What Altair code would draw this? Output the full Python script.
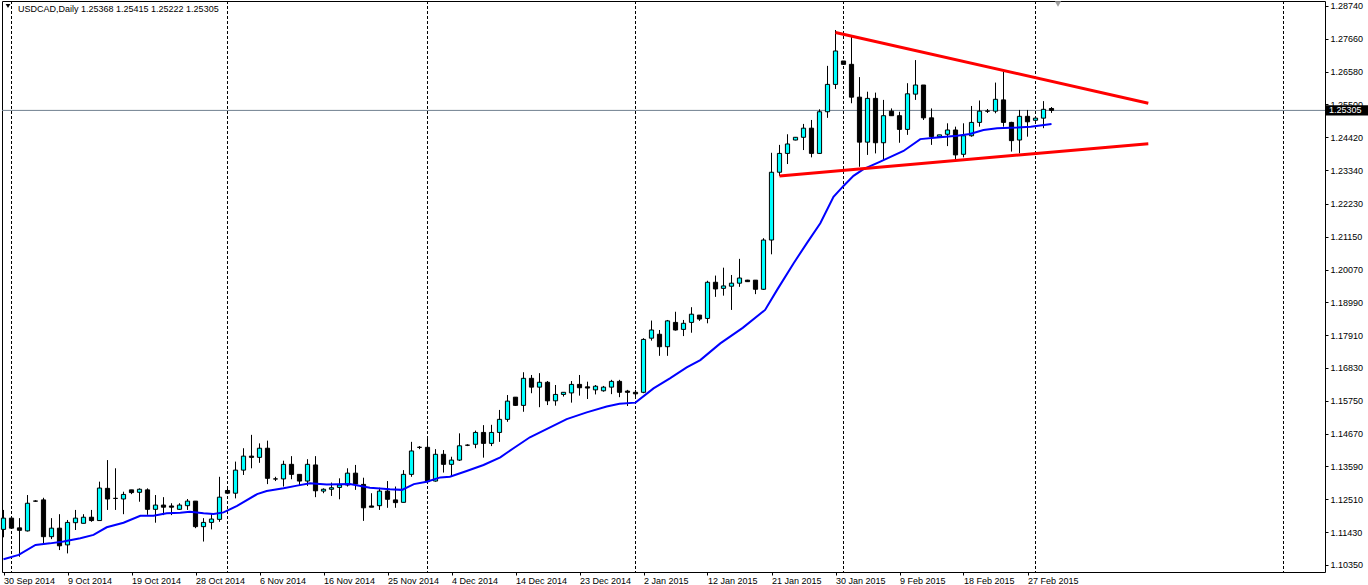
import json
import altair as alt
import pandas as pd

# ---------------- data ----------------
bar_idx = list(range(132))  # daily bars (Sun-Fri) from 30 Sep 2014 to 3 Mar 2015

opens = [1.1152, 1.1189, 1.1157, 1.1147, 1.1245, 1.1249, 1.1128, 1.1156, 1.1101, 1.1174,
         1.1172, 1.1192, 1.1181, 1.1287, 1.1254, 1.1252, 1.1282, 1.1274, 1.1282, 1.1218,
         1.1232, 1.1229, 1.1218, 1.1230, 1.1245, 1.1161, 1.1175, 1.1185, 1.1280, 1.1271,
         1.1347, 1.1393, 1.1389, 1.1419, 1.1318, 1.1318, 1.1366, 1.1333, 1.1311, 1.1364,
         1.1278, 1.1284, 1.1290, 1.1298, 1.1337, 1.1300, 1.1229, 1.1230, 1.1278, 1.1249,
         1.1241, 1.1333, 1.1422, 1.1422, 1.1311, 1.1399, 1.1366, 1.1380, 1.1429, 1.1432,
         1.1471, 1.1435, 1.1471, 1.1514, 1.1587, 1.1560, 1.1649, 1.1620, 1.1636, 1.1575,
         1.1596, 1.1601, 1.1629, 1.1621, 1.1611, 1.1608, 1.1620, 1.1639, 1.1607, 1.1603,
         1.1603, 1.1781, 1.1794, 1.1753, 1.1833, 1.1810, 1.1833, 1.1857, 1.1846, 1.1965,
         1.1945, 1.1952, 1.1962, 1.1972, 1.1972, 1.1942, 1.2104, 1.2327, 1.2389, 1.2433,
         1.2442, 1.2472, 1.2389, 1.2526, 1.2616, 1.2693, 1.2682, 1.2574, 1.2426, 1.2570,
         1.2424, 1.2528, 1.2513, 1.2468, 1.2584, 1.2614, 1.2506, 1.2444, 1.2452, 1.2466,
         1.2386, 1.2447, 1.2491, 1.2528, 1.2528, 1.2565, 1.2491, 1.2433, 1.2511, 1.2498,
         1.2505, 1.25368]
highs = [1.1216, 1.1191, 1.1189, 1.1265, 1.1248, 1.1256, 1.1189, 1.1202, 1.1183, 1.1216,
         1.1202, 1.1216, 1.1309, 1.1380, 1.1353, 1.1276, 1.1282, 1.1287, 1.1287, 1.1265,
         1.1258, 1.1238, 1.1238, 1.1252, 1.1245, 1.1189, 1.1205, 1.1325, 1.1293, 1.1375,
         1.1419, 1.1463, 1.1435, 1.1444, 1.1325, 1.1378, 1.1393, 1.1333, 1.1383, 1.1393,
         1.1287, 1.1306, 1.1320, 1.1353, 1.1364, 1.1322, 1.1271, 1.1289, 1.1311, 1.1293,
         1.1347, 1.1440, 1.1426, 1.1452, 1.1416, 1.1413, 1.1391, 1.1468, 1.1432, 1.1477,
         1.1495, 1.1496, 1.1545, 1.1594, 1.1587, 1.1669, 1.1660, 1.1666, 1.1640, 1.1627,
         1.1603, 1.1640, 1.1660, 1.1638, 1.1627, 1.1624, 1.1644, 1.1644, 1.1611, 1.1611,
         1.1781, 1.1839, 1.1808, 1.1841, 1.1868, 1.1841, 1.1883, 1.1857, 1.1970, 1.1987,
         1.2013, 1.1989, 1.2042, 1.1973, 1.1972, 1.2110, 1.2391, 1.2417, 1.2452, 1.2443,
         1.2486, 1.2499, 1.2534, 1.2677, 1.2795, 1.2693, 1.2773, 1.2640, 1.2592, 1.2589,
         1.2565, 1.2537, 1.2526, 1.2620, 1.2696, 1.2614, 1.2537, 1.2450, 1.2488, 1.2477,
         1.2488, 1.2545, 1.2563, 1.2535, 1.2622, 1.2658, 1.2493, 1.2532, 1.2532, 1.2506,
         1.2561, 1.25415]
lows = [1.1126, 1.1154, 1.1062, 1.1145, 1.1243, 1.1106, 1.1120, 1.1084, 1.1073, 1.1150,
        1.1172, 1.1177, 1.1181, 1.1216, 1.1216, 1.1202, 1.1268, 1.1243, 1.1200, 1.1174,
        1.1199, 1.1199, 1.1216, 1.1216, 1.1156, 1.1112, 1.1152, 1.1177, 1.1268, 1.1254,
        1.1331, 1.1353, 1.1371, 1.1301, 1.1311, 1.1293, 1.1317, 1.1298, 1.1295, 1.1258,
        1.1271, 1.1262, 1.1251, 1.1293, 1.1282, 1.1180, 1.1225, 1.1216, 1.1223, 1.1223,
        1.1241, 1.1325, 1.1416, 1.1309, 1.1309, 1.1339, 1.1325, 1.1377, 1.1426, 1.1419,
        1.1388, 1.1426, 1.1440, 1.1506, 1.1558, 1.1539, 1.1600, 1.1554, 1.1561, 1.1559,
        1.1589, 1.1569, 1.1592, 1.1581, 1.1596, 1.1605, 1.1597, 1.1587, 1.1558, 1.1589,
        1.1600, 1.1773, 1.1723, 1.1723, 1.1806, 1.1788, 1.1799, 1.1838, 1.1830, 1.1917,
        1.1921, 1.1874, 1.1950, 1.1967, 1.1926, 1.1940, 1.2057, 1.2315, 1.2354, 1.2432,
        1.2400, 1.2376, 1.2387, 1.2506, 1.2601, 1.2682, 1.2554, 1.2345, 1.2384, 1.2389,
        1.2367, 1.2513, 1.2424, 1.2450, 1.2565, 1.2499, 1.2417, 1.2441, 1.2413, 1.2367,
        1.2376, 1.2444, 1.2477, 1.2522, 1.2521, 1.2477, 1.2395, 1.2389, 1.2444, 1.2497,
        1.2472, 1.25222]
closes = [1.1189, 1.1156, 1.1149, 1.1238, 1.1245, 1.1128, 1.1156, 1.1098, 1.1175, 1.1189,
          1.1192, 1.1181, 1.1288, 1.1252, 1.1254, 1.1267, 1.1273, 1.1284, 1.1218, 1.1232,
          1.1225, 1.1225, 1.1232, 1.1245, 1.1161, 1.1175, 1.1186, 1.1258, 1.1271, 1.1347,
          1.1393, 1.1389, 1.1419, 1.1320, 1.1318, 1.1366, 1.1333, 1.1311, 1.1366, 1.1279,
          1.1284, 1.1289, 1.1298, 1.1337, 1.1301, 1.1223, 1.1225, 1.1278, 1.1251, 1.1240,
          1.1333, 1.1410, 1.1422, 1.1309, 1.1399, 1.1366, 1.1380, 1.1427, 1.1429, 1.1471,
          1.1435, 1.1471, 1.1514, 1.1574, 1.1560, 1.1649, 1.1620, 1.1636, 1.1575, 1.1596,
          1.1603, 1.1629, 1.1618, 1.1617, 1.1623, 1.1620, 1.1639, 1.1603, 1.1603, 1.1598,
          1.1777, 1.1808, 1.1753, 1.1838, 1.1808, 1.1830, 1.1860, 1.1844, 1.1965, 1.1943,
          1.1953, 1.1962, 1.1979, 1.1967, 1.1942, 1.2104, 1.2327, 1.2389, 1.2420, 1.2442,
          1.2472, 1.2389, 1.2526, 1.2616, 1.2726, 1.2682, 1.2574, 1.2426, 1.2570, 1.2424,
          1.2513, 1.2513, 1.2468, 1.2585, 1.2614, 1.2506, 1.2444, 1.2450, 1.2466, 1.2384,
          1.2447, 1.2491, 1.2528, 1.2528, 1.2567, 1.2491, 1.2431, 1.2511, 1.2493, 1.2505,
          1.2534, 1.25305]

# moving average (blue line), read at points along the curve
ma_idx = [0.0, 1.9, 4.0, 5.8, 7.5, 9.6, 11.25, 12.9, 15.0, 17.1, 18.75, 20.4, 22.1, 23.3,
          25.0, 26.25, 27.5, 29.2, 31.7, 32.9, 35.0, 36.7, 38.3, 40.4, 43.3, 45.8, 48.3,
          49.8, 51.3, 52.9, 54.6, 55.8, 57.9, 60.0, 62.1, 63.75, 65.8, 70.4, 72.9, 75.4,
          77.0, 79.0, 81.25, 83.3, 85.4, 87.1, 89.6, 92.4, 95.2, 96.7, 98.75, 100.4, 102.1,
          103.75, 105.0, 106.25, 107.5, 109.6, 110.0, 112.5, 114.6, 116.7, 119.2, 120.8,
          122.5, 124.2, 126.7, 128.4, 131.0]
ma_val = [1.1054, 1.1068, 1.1101, 1.1106, 1.1112, 1.1123, 1.1134, 1.1159, 1.1174, 1.1197,
          1.1197, 1.1205, 1.1207, 1.1210, 1.1205, 1.1203, 1.1208, 1.1229, 1.1268, 1.1278,
          1.1287, 1.1296, 1.1304, 1.1300, 1.1301, 1.1289, 1.1284, 1.1282, 1.1301, 1.1309,
          1.1323, 1.1325, 1.1344, 1.1364, 1.1389, 1.1419, 1.1455, 1.1515, 1.1537, 1.1556,
          1.1565, 1.1569, 1.1616, 1.1649, 1.1685, 1.1709, 1.1764, 1.1815, 1.1874, 1.1940,
          1.2027, 1.2093, 1.2159, 1.2246, 1.2282, 1.2315, 1.2337, 1.2362, 1.2367, 1.2397,
          1.2436, 1.2441, 1.2447, 1.2453, 1.2466, 1.2472, 1.2474, 1.2477, 1.2486]

# red trend lines (triangle)
trend_id = ["upper", "upper", "lower", "lower"]
trend_idx = [104.0, 143.1, 97.0, 143.1]
trend_val = [1.2787, 1.2554, 1.2315, 1.2421]

# monthly period separators (bar index of first bar of month)
sep_idx = [1, 28, 53, 79, 105, 129, 160]

x_tick_idx = [0, 8, 16, 24, 32, 40, 48, 56, 64, 72, 80, 88, 96, 104, 112, 120, 128]
x_tick_labels = ["30 Sep 2014", "9 Oct 2014", "19 Oct 2014", "28 Oct 2014", "6 Nov 2014",
                 "16 Nov 2014", "25 Nov 2014", "4 Dec 2014", "14 Dec 2014", "23 Dec 2014",
                 "2 Jan 2015", "12 Jan 2015", "21 Jan 2015", "30 Jan 2015", "9 Feb 2015",
                 "18 Feb 2015", "27 Feb 2015"]
y_ticks = [1.28740, 1.27660, 1.26580, 1.25500, 1.24420, 1.23340, 1.22230, 1.21150,
           1.20070, 1.18990, 1.17910, 1.16830, 1.15750, 1.14670, 1.13590, 1.12510,
           1.11430, 1.10350]

symbol = "USDCAD,Daily"

# ---------------- chart ----------------
FONT = "Liberation Sans"
xs = alt.Scale(domain=[-0.1875, 165.1875], nice=False, zero=False)
ys = alt.Scale(domain=[1.10118, 1.28904], nice=False, zero=False)

candles = pd.DataFrame({"i": bar_idx, "open": opens, "high": highs,
                        "low": lows, "close": closes})
ma_df = pd.DataFrame({"i": ma_idx, "v": ma_val})
trend_df = pd.DataFrame({"id": trend_id, "i": trend_idx, "v": trend_val})
sep_df = pd.DataFrame({"i": sep_idx})
last_df = pd.DataFrame({"p": [closes[-1]], "t": [f"{closes[-1]:.5f}"]})
title_df = pd.DataFrame({"t": [f"{symbol}  {opens[-1]:.5f} {highs[-1]:.5f} {lows[-1]:.5f} {closes[-1]:.5f}"]})

label_expr = json.dumps(x_tick_labels) + "[round(datum.value / 8)]"

x_axis = alt.Axis(values=x_tick_idx, labelExpr=label_expr, orient="bottom", grid=False,
                  domain=False, ticks=True, tickSize=3, tickColor="black",
                  labelAlign="left", labelBaseline="top", labelPadding=1,
                  labelFont=FONT, labelFontSize=9, labelColor="black",
                  labelFlush=False, labelOverlap=False, title=None)
y_axis = alt.Axis(values=y_ticks, format=".5f", orient="right", grid=False, domain=False,
                  ticks=True, tickSize=3, tickColor="black", labelPadding=2,
                  labelFont=FONT, labelFontSize=9, labelColor="black",
                  labelOverlap=False, labelFlush=False, title=None)


def X(field):
    return alt.X(field, scale=xs, axis=x_axis)


def Y(field):
    return alt.Y(field, scale=ys, axis=y_axis)


seps = alt.Chart(sep_df).mark_rule(color="black", strokeWidth=1, strokeDash=[3, 2]).encode(
    x=X("i:Q"))

price_line = alt.Chart(last_df).mark_rule(color="#708090", strokeWidth=1).encode(
    y=Y("p:Q"))

wicks = alt.Chart(candles).mark_rule(color="black", strokeWidth=1).encode(
    x=X("i:Q"), y=Y("low:Q"), y2="high:Q")

bodies = alt.Chart(candles).transform_calculate(
    xa="datum.i - 0.26", xb="datum.i + 0.26"
).mark_rect(stroke="black", strokeWidth=1).encode(
    x=X("xa:Q"), x2="xb:Q", y=Y("open:Q"), y2="close:Q",
    fill=alt.condition("datum.close > datum.open", alt.value("#00FFFF"), alt.value("#000000")))

ma_line = alt.Chart(ma_df).mark_line(color="#0000FF", strokeWidth=2).encode(
    x=X("i:Q"), y=Y("v:Q"))

trends = alt.Chart(trend_df).mark_line(color="#FF0000", strokeWidth=3).encode(
    x=X("i:Q"), y=Y("v:Q"), detail="id:N")

price_box = alt.Chart(last_df).mark_point(
    shape="M-1,-0.24L1,-0.24L1,0.24L-1,0.24Z", size=1764, filled=True,
    color="black", opacity=1).encode(
    x=alt.value(1345), y=Y("p:Q"))
price_txt = alt.Chart(last_df).mark_text(
    align="left", baseline="middle", color="white", font=FONT, fontSize=9).encode(
    x=alt.value(1327), y=Y("p:Q"), text="t:N")

title = alt.Chart(title_df).mark_text(
    align="left", baseline="middle", color="black", font=FONT, fontSize=9).encode(
    x=alt.value(16), y=alt.value(8), text="t:N")
title_icon = alt.Chart(title_df).mark_point(
    shape="triangle-down", filled=True, color="black", size=22, opacity=1).encode(
    x=alt.value(6), y=alt.value(5))
shift_marker = alt.Chart(title_df).mark_point(
    shape="triangle-down", filled=True, color="#A0A0A0", size=40, opacity=1).encode(
    x=alt.value(1056), y=alt.value(3))

chart = alt.layer(
    seps, price_line, wicks, bodies, ma_line, trends,
    price_box, price_txt, title, title_icon, shift_marker
).properties(
    width=1323, height=571,
    autosize=alt.AutoSizeParams(type="none"),
    padding={"left": 2, "top": 1, "right": 43, "bottom": 13},
    background="white",
).configure_view(stroke="black", strokeWidth=1)

chart.save("out.html", embed_options={"renderer": "svg", "actions": False})
